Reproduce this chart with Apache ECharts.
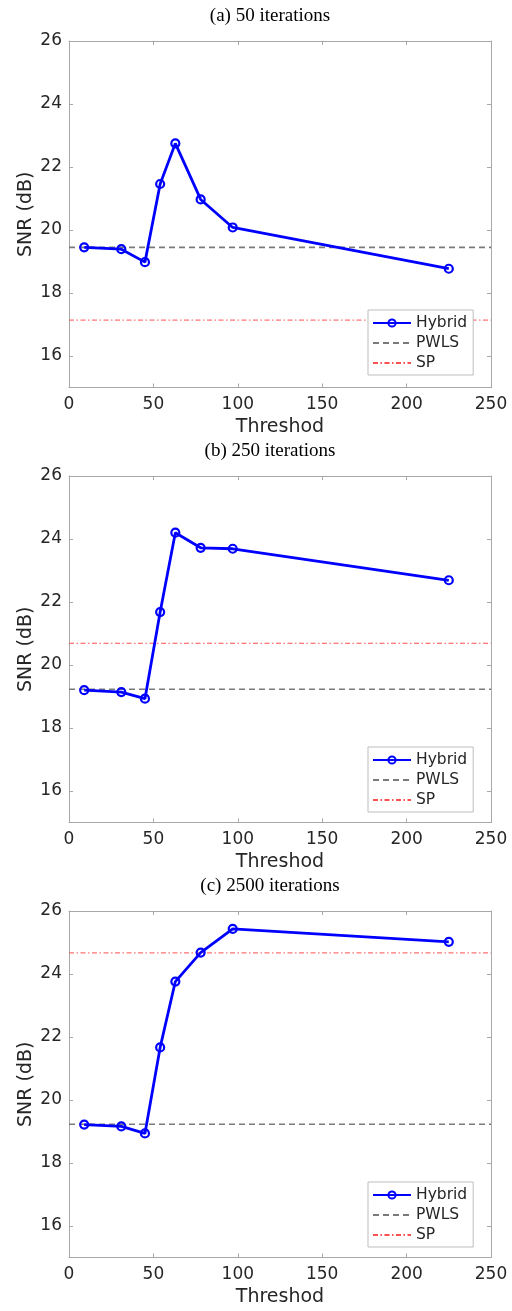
<!DOCTYPE html>
<html>
<head>
<meta charset="utf-8">
<script src="https://cdn.jsdelivr.net/npm/echarts@6/dist/echarts.min.js"></script>
<style>
  html, body { margin: 0; padding: 0; background: #fff; }
  #chart { width: 512px; height: 1311px; }
</style>
</head>
<body>
<div id="chart"></div>
<script>
// Threshold values tested (x) and SNR results (y, dB) per iteration count
const thresholds = [9, 31, 45, 54, 63, 78, 97, 225];
const panelTitles = ['(a) 50 iterations', '(b) 250 iterations', '(c) 2500 iterations'];
const hybrid50   = [19.45, 19.39, 18.98, 21.46, 22.75, 20.97, 20.08, 18.77];
const hybrid250  = [19.20, 19.14, 18.93, 21.68, 24.20, 23.72, 23.69, 22.69];
const hybrid2500 = [19.22, 19.16, 18.94, 21.67, 23.76, 24.68, 25.43, 25.02];
const hybridByPanel = [hybrid50, hybrid250, hybrid2500];
// Reference levels (constant across thresholds)
const pwlsLevel = [19.45, 19.23, 19.23];
const spLevel   = [17.14, 20.69, 24.67];
const xRange = [0, 250];
const yRange = [15, 26];

const gridTops = [41, 476, 911];
const gridHeight = 346.5;
const titleTops = [6.5, 442, 877];
const legendTops = [310, 747, 1182];

const axisGray = '#a8a8a8';
const textDark = '#262626';
const sansFont = 'DejaVu Sans';
const blue = '#0000ff';

const chart = echarts.init(document.getElementById('chart'), null, { renderer: 'canvas' });

const grid = [], xAxis = [], yAxis = [], series = [], title = [], legend = [];

gridTops.forEach((top, i) => {
  grid.push({ left: 69, width: 422, top: top, height: gridHeight });

  title.push({
    text: panelTitles[i],
    left: 270, top: titleTops[i], textAlign: 'center', padding: 0,
    textStyle: { fontFamily: 'Liberation Serif', fontSize: 19, fontWeight: 'normal', color: '#000' }
  });

  const tickStyle = { show: true, inside: true, length: 4, lineStyle: { color: axisGray, width: 1 } };
  const lineStyle = { show: true, onZero: false, lineStyle: { color: axisGray, width: 1 } };

  // bottom x axis with labels
  xAxis.push({
    gridIndex: i, type: 'value', position: 'bottom',
    min: xRange[0], max: xRange[1], interval: 50,
    axisLine: lineStyle, axisTick: tickStyle, splitLine: { show: false },
    axisLabel: { color: textDark, fontFamily: sansFont, fontSize: 17, margin: 9 },
    name: 'Threshod', nameLocation: 'middle', nameGap: 30,
    nameTextStyle: { color: textDark, fontFamily: sansFont, fontSize: 19 }
  });
  // top x axis closing the box
  xAxis.push({
    gridIndex: i, type: 'value', position: 'top',
    min: xRange[0], max: xRange[1], interval: 50,
    axisLine: lineStyle, axisTick: tickStyle, splitLine: { show: false },
    axisLabel: { show: false }
  });
  // left y axis with labels
  yAxis.push({
    gridIndex: i, type: 'value', position: 'left',
    min: yRange[0], max: yRange[1], splitNumber: 5,
    axisLine: lineStyle, axisTick: tickStyle, splitLine: { show: false },
    axisLabel: { color: textDark, fontFamily: sansFont, fontSize: 17, margin: 7, showMinLabel: false },
    name: 'SNR (dB)', nameLocation: 'middle', nameGap: 33, nameMoveOverlap: false,
    nameTextStyle: { color: textDark, fontFamily: sansFont, fontSize: 19 }
  });
  // right y axis closing the box
  yAxis.push({
    gridIndex: i, type: 'value', position: 'right',
    min: yRange[0], max: yRange[1], splitNumber: 5,
    axisLine: lineStyle, axisTick: tickStyle, splitLine: { show: false },
    axisLabel: { show: false }
  });

  const xIdx = i * 2, yIdx = i * 2;

  series.push({
    name: 'PWLS', type: 'line', xAxisIndex: xIdx, yAxisIndex: yIdx,
    data: [[xRange[0], pwlsLevel[i]], [xRange[1], pwlsLevel[i]]],
    showSymbol: false, symbol: 'none',
    lineStyle: { color: '#7a7a7a', width: 1.6, type: [6, 4] },
    itemStyle: { color: '#7a7a7a' }, z: 2, silent: true
  });
  series.push({
    name: 'SP', type: 'line', xAxisIndex: xIdx, yAxisIndex: yIdx,
    data: [[xRange[0], spLevel[i]], [xRange[1], spLevel[i]]],
    showSymbol: false, symbol: 'none',
    lineStyle: { color: '#ff5050', width: 1, type: [5, 2.5, 1.5, 2.5] },
    itemStyle: { color: '#ff5050' }, z: 2, silent: true
  });
  series.push({
    name: 'Hybrid', type: 'line', xAxisIndex: xIdx, yAxisIndex: yIdx,
    data: thresholds.map((t, k) => [t, hybridByPanel[i][k]]),
    symbol: 'circle', symbolSize: 8, showAllSymbol: true,
    lineStyle: { color: blue, width: 2.8 },
    itemStyle: { color: 'rgba(255,255,255,0)', borderColor: blue, borderWidth: 2.2 },
    z: 3, silent: true
  });

  legend.push({
    data: [
      { name: 'Hybrid' },
      { name: 'PWLS', itemStyle: { opacity: 0 } },
      { name: 'SP', itemStyle: { opacity: 0 } }
    ],
    orient: 'vertical',
    left: 368, top: legendTops[i],
    itemWidth: 38, itemHeight: 9, itemGap: 4, padding: [5, 6, 4, 4],
    borderColor: '#bdbdbd', borderWidth: 1, backgroundColor: '#fff',
    textStyle: { color: textDark, fontFamily: sansFont, fontSize: 15.5, lineHeight: 14 },
    selectedMode: false, z: 10
  });
});

chart.setOption({
  animation: false,
  backgroundColor: '#fff',
  title, grid, xAxis, yAxis, series, legend
});
</script>
</body>
</html>
